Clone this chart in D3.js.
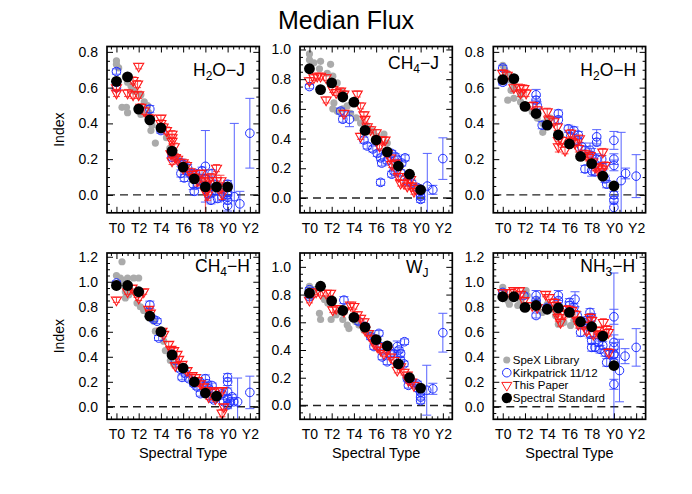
<!DOCTYPE html>
<html><head><meta charset="utf-8">
<script src="https://cdn.jsdelivr.net/npm/d3@7"></script>
<style>body{margin:0;background:#fff} svg{display:block} text{font-family:"Liberation Sans",Arial,sans-serif}</style>
</head><body><svg id="c" width="692" height="494"></svg>
<script>
// ---------- tick labels ----------
const spectralTicks = [0, 2, 4, 6, 8, 10, 12];
const spectralLabels = ["T0", "T2", "T4", "T6", "T8", "Y0", "Y2"];
const legendLabels = ["SpeX Library", "Kirkpatrick 11/12", "This Paper", "Spectral Standard"];

// ---------- H2O-J ----------
const h2oJ_gray = [[0,0.75],[0,0.73],[0.2,0.71],[0.8,0.66],[1,0.63],[1.3,0.61],[1.6,0.58],[0.5,0.49],[0.9,0.49],[1,0.46],[2.2,0.56],[2.5,0.52],[2.8,0.5],[2.9,0.46],[2.2,0.45],[3.2,0.39],[3.1,0.36],[3.5,0.29],[4.5,0.32],[4.8,0.26],[5.2,0.23],[5.5,0.2],[6,0.16],[6.5,0.12],[7,0.09],[7.5,0.07],[8,0.06],[8.5,0.04],[9,0.03]];
const h2oJ_blue = [[0,0.69,0.015],[0,0.63,0.015],[0,0.6,0.015],[3,0.48,0.02],[4,0.36,0.015],[5,0.23,0.015],[5,0.21,0.015],[5.8,0.18,0.02],[6,0.17,0.02],[5.8,0.12,0.02],[6.1,0.095,0.02],[6.4,0.15,0.02],[6.6,0.12,0.02],[6.9,0.06,0.03],[7,0.02,0.02],[7.1,0.12,0.02],[7.3,0.06,0.02],[7.6,0.08,0.02],[7.7,0.135,0.02],[8,0.16,0.2],[8,0.09,0.02],[8.2,0.045,0.02],[8.3,0.005,0.02],[8.5,-0.03,0.02],[8.6,0.12,0.02],[8.8,0.06,0.02],[8.9,0.025,0.02],[9.1,-0.02,0.02],[9.5,-0.01,0.02],[9.8,0.045,0.02],[10,0.015,0.02],[10,0.06,0.02],[10,0.0,0.02],[10,-0.03,0.02],[10,-0.06,0.03],[10.6,-0.01,0.41],[11.1,-0.05,0.07],[12,0.345,0.195]];
const h2oJ_red = [[0,0.6,0.02],[0,0.57,0.02],[1,0.57,0.02],[1.5,0.56,0.02],[2,0.72,0.015],[1.5,0.64,0.02],[1.9,0.62,0.02],[2,0.56,0.02],[2.2,0.49,0.02],[2.5,0.47,0.02],[3,0.43,0.02],[4,0.43,0.015],[4,0.4,0.02],[4.2,0.38,0.02],[4.5,0.36,0.02],[5,0.34,0.02],[5,0.32,0.02],[5,0.3,0.02],[5.2,0.27,0.02],[4.9,0.23,0.02],[5,0.19,0.02],[5.3,0.21,0.02],[5.5,0.2,0.02],[6,0.18,0.02],[6,0.15,0.02],[6.3,0.165,0.02],[6.6,0.13,0.02],[6.8,0.115,0.02],[7,0.1,0.02],[7.3,0.08,0.03],[7.5,0.12,0.02],[7.8,0.08,0.03],[8,0.06,0.03],[8.2,0.03,0.03],[8.3,0.08,0.03],[8.5,0.1,0.02],[9,0.15,0.02],[9,0.08,0.03],[9.4,0.08,0.03],[9.4,0.04,0.03],[9.5,0.005,0.03],[8.2,0.0,0.03],[8,0.02,0.12]];
const h2oJ_black = [[0,0.635],[1,0.66],[2,0.48],[3,0.42],[4,0.375],[5,0.245],[6,0.155],[7,0.09],[8,0.045],[9,0.045],[10,0.045]];

// ---------- CH4-J ----------
const ch4J_gray = [[0,0.97],[0,0.93],[0.4,0.91],[1,0.92],[1.9,0.9],[0.9,0.87],[1.6,0.84],[2.1,0.82],[2.5,0.775],[3,0.71],[2.2,0.64],[2.1,0.6],[2.5,0.585],[3,0.6],[3.4,0.62],[3.7,0.57],[4.2,0.54],[4.6,0.505],[5.2,0.48],[5.7,0.45],[6.1,0.415],[6.7,0.43],[7,0.37]];
const ch4J_blue = [[0,0.75,0.015],[2.8,0.585,0.02],[3,0.53,0.02],[3.6,0.53,0.05],[4.9,0.39,0.02],[5.2,0.35,0.02],[5.7,0.33,0.02],[6.1,0.3,0.02],[6.4,0.27,0.02],[6.5,0.235,0.02],[7,0.25,0.02],[7.4,0.3,0.02],[7.7,0.28,0.02],[7.6,0.18,0.02],[7.9,0.26,0.02],[8.3,0.235,0.02],[8.6,0.27,0.02],[7.4,0.16,0.02],[6.4,0.105,0.02],[8.2,0.17,0.02],[8.8,0.11,0.02],[9.2,0.1,0.02],[9.7,0.07,0.02],[10,0.045,0.02],[10,0.01,0.02],[10,-0.01,0.02],[10.6,0.08,0.22],[11.1,0.055,0.03],[12,0.265,0.14]];
const ch4J_red = [[0,0.79,0.02],[0.4,0.81,0.02],[0.7,0.82,0.02],[1,0.82,0.02],[1.5,0.81,0.02],[1.5,0.66,0.02],[2.1,0.73,0.02],[2.4,0.71,0.02],[2.8,0.72,0.02],[3.1,0.7,0.02],[3.1,0.57,0.02],[4.3,0.7,0.02],[4.6,0.62,0.02],[4.9,0.56,0.02],[5,0.53,0.02],[5.2,0.48,0.02],[4.6,0.415,0.02],[5.5,0.46,0.02],[6,0.44,0.02],[6.1,0.39,0.02],[6.3,0.35,0.02],[6.5,0.39,0.02],[6.8,0.39,0.02],[7,0.3,0.02],[7.3,0.27,0.02],[7.4,0.225,0.02],[7.7,0.235,0.02],[7.9,0.18,0.02],[8,0.145,0.02],[8.2,0.1,0.02],[8.5,0.1,0.02],[8.8,0.08,0.02],[9.2,0.08,0.02],[9.4,0.045,0.02],[9.5,0.065,0.02],[8.8,0.145,0.02],[9.1,0.125,0.02]];
const ch4J_black = [[0,0.87],[1,0.73],[2,0.775],[3,0.68],[4,0.645],[5,0.455],[6,0.39],[7,0.31],[8,0.215],[9,0.16],[10,0.055]];

// ---------- H2O-H ----------
const h2oH_gray = [[0,0.725],[0.15,0.7],[0.4,0.68],[0.75,0.64],[1,0.6],[0.75,0.585],[0.45,0.53],[1,0.54],[1.6,0.52],[1.6,0.56],[2.2,0.49],[2.65,0.465],[3.1,0.43],[3.6,0.4],[3.6,0.35],[4.3,0.43],[4,0.42]];
const h2oH_blue = [[0,0.71,0.015],[0,0.63,0.015],[3,0.56,0.03],[3,0.53,0.02],[3.1,0.5,0.02],[3.55,0.39,0.02],[5,0.455,0.02],[5,0.42,0.02],[5.9,0.37,0.02],[6.1,0.325,0.02],[6.4,0.36,0.02],[6.8,0.335,0.02],[6.7,0.305,0.02],[7.1,0.27,0.02],[7.4,0.25,0.02],[7.85,0.25,0.04],[8,0.22,0.04],[8.45,0.325,0.04],[8.45,0.295,0.02],[7.4,0.145,0.02],[8,0.135,0.03],[8.3,0.13,0.02],[8.45,0.2,0.03],[8.9,0.2,0.02],[9,0.155,0.02],[9.2,0.09,0.02],[9.35,0.06,0.02],[10,0.305,0.05],[10,0.2,0.03],[10,0.165,0.03],[10,0.0,0.02],[10,-0.03,0.02],[10,-0.07,0.03],[10.65,0.08,0.27],[11.05,0.12,0.03],[12,0.105,0.12]];
const h2oH_red = [[0,0.68,0.02],[0.4,0.67,0.02],[1,0.6,0.02],[1.5,0.6,0.02],[1.9,0.595,0.02],[2.1,0.57,0.02],[1.6,0.57,0.02],[2.7,0.5,0.02],[3.1,0.475,0.02],[4,0.465,0.02],[4.15,0.42,0.02],[4.6,0.41,0.02],[4.9,0.38,0.02],[5,0.305,0.02],[5,0.27,0.03],[5.3,0.305,0.02],[5.6,0.25,0.02],[6.1,0.345,0.02],[6.2,0.3,0.02],[6.5,0.29,0.02],[6.9,0.315,0.02],[6.8,0.26,0.02],[7.4,0.23,0.02],[7.7,0.21,0.02],[7.85,0.22,0.02],[8.1,0.185,0.02],[8.3,0.155,0.02],[8.6,0.155,0.02],[8.9,0.145,0.02],[9,0.24,0.02],[9.2,0.165,0.02],[8.7,0.13,0.02]];
const h2oH_black = [[0,0.645],[1,0.65],[2,0.495],[3,0.455],[4,0.39],[5,0.335],[6,0.285],[7,0.215],[8,0.175],[9,0.105],[10,0.05]];

// ---------- CH4-H ----------
const ch4H_gray = [[0.5,1.16],[0,1.05],[0.35,1.03],[0.65,1.01],[1,1.03],[1.55,1.03],[2,1.03],[0.8,0.92],[0.8,0.87],[1.1,0.895],[1.4,0.92],[1.85,0.83],[2.15,0.8],[2.45,0.77],[2.9,0.775],[3.35,0.685],[3.5,0.605],[4.25,0.525],[4.4,0.45],[4.85,0.37],[5.15,0.34]];
const ch4H_blue = [[0,0.99,0.015],[3,0.815,0.03],[3.35,0.7,0.02],[3.65,0.685,0.02],[3.8,0.55,0.02],[5,0.42,0.02],[5.3,0.37,0.02],[5.75,0.3,0.02],[5.9,0.235,0.02],[6.2,0.265,0.02],[6.5,0.225,0.02],[6.95,0.185,0.02],[7.25,0.16,0.02],[7.5,0.2,0.02],[7.55,0.105,0.02],[8,0.225,0.03],[8.15,0.185,0.02],[8.3,0.145,0.02],[8.6,0.17,0.02],[8.45,0.08,0.02],[8.75,0.055,0.02],[9.5,0.105,0.02],[9.65,0.04,0.02],[10,0.235,0.03],[10,0.2,0.03],[10,0.12,0.03],[10,0.065,0.03],[10,0.015,0.03],[10.25,0.04,0.02],[10.4,0.08,0.02],[10.55,0.04,0.02],[10.9,0.04,0.19],[12,0.115,0.13]];
const ch4H_red = [[0,0.855,0.02],[1,0.92,0.02],[1.4,0.95,0.02],[1.85,0.895,0.02],[2,0.87,0.02],[2.45,0.92,0.02],[2.9,0.78,0.02],[3.05,0.75,0.02],[4.1,0.605,0.02],[4.25,0.58,0.02],[4.7,0.5,0.02],[4.9,0.46,0.02],[5.15,0.45,0.02],[5.45,0.42,0.02],[5.6,0.38,0.02],[5.3,0.33,0.02],[5.9,0.34,0.02],[6.35,0.29,0.02],[6.8,0.25,0.02],[7.1,0.235,0.02],[7.25,0.21,0.02],[7.55,0.185,0.02],[7.85,0.16,0.02],[8.15,0.13,0.02],[8.3,0.08,0.02],[8.6,0.12,0.02],[8.9,0.065,0.02],[9.2,0.13,0.02],[9.5,0.13,0.02],[9.5,-0.05,0.03],[9.65,0.0,0.02]];
const ch4H_black = [[0,0.97],[1,0.97],[2,0.92],[3,0.725],[4,0.6],[5,0.415],[6,0.31],[7,0.2],[8,0.11],[9,0.085]];

// ---------- W_J ----------
const wJ_gray = [[0,0.86],[0.45,0.835],[0.15,0.785],[0.9,0.665],[1,0.62],[1.35,0.765],[1.65,0.74],[1.95,0.62],[2.4,0.655],[3,0.62],[3.4,0.58],[3.55,0.555],[4.15,0.605],[4.45,0.58],[4.9,0.545],[5.5,0.52],[5.8,0.49]];
const wJ_blue = [[0,0.785,0.015],[0,0.835,0.015],[3.1,0.76,0.025],[4.45,0.605,0.02],[5,0.57,0.02],[5.5,0.495,0.02],[5.8,0.425,0.02],[6.25,0.52,0.02],[6.4,0.425,0.02],[6.55,0.35,0.02],[7,0.315,0.02],[7.3,0.375,0.02],[7.6,0.375,0.02],[7.9,0.425,0.04],[8.05,0.4,0.02],[8.2,0.375,0.02],[8.55,0.46,0.02],[8.2,0.325,0.02],[8.5,0.3,0.02],[8.8,0.195,0.02],[8.9,0.145,0.02],[9.2,0.17,0.02],[9.7,0.155,0.02],[9.8,0.12,0.02],[10,0.095,0.02],[10,0.06,0.02],[10,0.035,0.02],[10.55,0.11,0.18],[11.1,0.12,0.04],[12,0.525,0.14]];
const wJ_red = [[0,0.76,0.02],[0.6,0.82,0.02],[1,0.81,0.02],[1.5,0.81,0.02],[1.9,0.81,0.02],[2.1,0.69,0.02],[2.4,0.7,0.02],[3.1,0.68,0.02],[3.7,0.725,0.02],[4,0.715,0.02],[4.3,0.655,0.02],[4.6,0.63,0.02],[4.9,0.605,0.02],[5,0.545,0.02],[5.3,0.52,0.02],[5.6,0.485,0.02],[5.8,0.45,0.02],[6.1,0.425,0.02],[6.4,0.4,0.02],[6.7,0.375,0.02],[7,0.4,0.02],[7.3,0.35,0.02],[7.6,0.325,0.02],[7.9,0.255,0.02],[8.2,0.28,0.02],[8.5,0.24,0.02],[8.8,0.22,0.02],[8.9,0.18,0.02],[9.2,0.17,0.02],[9.4,0.145,0.02]];
const wJ_black = [[0,0.81],[1,0.86],[2,0.755],[3,0.685],[4,0.635],[5,0.565],[6,0.475],[7,0.43],[8,0.3],[9,0.2],[10,0.125]];

// ---------- NH3-H ----------
const nh3H_gray = [[0,0.955],[0.15,0.915],[0.45,0.85],[0.6,0.82],[1.35,0.81],[1.6,0.835],[2.1,0.93],[2.2,0.89],[2.8,0.82],[3.1,0.85],[3.55,0.755],[4,0.82],[4.45,0.78],[4.75,0.73],[5,0.66],[5.5,0.675],[6.1,0.65],[6.4,0.69]];
const nh3H_blue = [[0,0.915,0.015],[1.9,0.89,0.02],[3,0.89,0.04],[3,0.85,0.02],[3,0.73,0.02],[4,0.795,0.02],[5,0.89,0.04],[5,0.85,0.02],[6,0.835,0.03],[6,0.81,0.03],[6.4,0.795,0.03],[6.5,0.86,0.06],[6.7,0.73,0.03],[7,0.595,0.03],[7.3,0.675,0.03],[7.55,0.69,0.03],[7.85,0.755,0.03],[8,0.715,0.03],[7.85,0.58,0.03],[8,0.53,0.03],[8,0.475,0.03],[8.3,0.475,0.03],[8.6,0.515,0.03],[8.75,0.46,0.03],[8.9,0.555,0.03],[9,0.49,0.03],[9.2,0.435,0.03],[9.35,0.355,0.03],[9.6,0.42,0.03],[10,0.72,0.06],[10,0.515,0.06],[10,0.475,0.04],[10,0.42,0.04],[10,0.355,0.04],[10,0.18,0.04],[10,0.42,0.65],[10.5,0.29,0.25],[11,0.405,0.06],[12,0.475,0.15]];
const nh3H_red = [[0,0.915,0.02],[0.6,0.915,0.02],[1,0.93,0.02],[1.5,0.93,0.02],[1.6,0.9,0.02],[1.9,0.85,0.02],[2.65,0.81,0.02],[3.1,0.795,0.02],[3.85,0.9,0.02],[4.15,0.875,0.02],[4.6,0.835,0.03],[4.75,0.81,0.03],[4.9,0.755,0.03],[5,0.715,0.03],[5.2,0.675,0.03],[5.5,0.74,0.03],[5.8,0.78,0.03],[6.2,0.77,0.03],[6.5,0.74,0.03],[6.7,0.69,0.03],[6.8,0.66,0.03],[7.3,0.65,0.03],[7.55,0.61,0.03],[7.85,0.715,0.03],[8,0.69,0.03],[8.15,0.58,0.03],[8.45,0.61,0.03],[8.75,0.58,0.03],[9.05,0.675,0.03],[9.35,0.62,0.03],[9.5,0.595,0.03],[9.55,0.435,0.03]];
const nh3H_black = [[0,0.88],[1,0.88],[2,0.795],[3,0.81],[4,0.78],[5,0.79],[6,0.755],[7,0.68],[8,0.64],[9,0.565],[10,0.33]];

// ---------- panels ----------
const panels = [
  {label:[["H",0],["2",1],["O\u2212J",0]], gray:h2oJ_gray, blue:h2oJ_blue, red:h2oJ_red, black:h2oJ_black, yMax:0.83, yTicks:[0,0.2,0.4,0.6,0.8], lx:86, ly:29},
  {label:[["CH",0],["4",1],["\u2212J",0]], gray:ch4J_gray, blue:ch4J_blue, red:ch4J_red, black:ch4J_black, yMax:1.02, yTicks:[0,0.2,0.4,0.6,0.8,1.0], lx:88, ly:22},
  {label:[["H",0],["2",1],["O\u2212H",0]], gray:h2oH_gray, blue:h2oH_blue, red:h2oH_red, black:h2oH_black, yMax:0.83, yTicks:[0,0.2,0.4,0.6,0.8], lx:87, ly:29},
  {label:[["CH",0],["4",1],["\u2212H",0]], gray:ch4H_gray, blue:ch4H_blue, red:ch4H_red, black:ch4H_black, yMax:1.23, yTicks:[0,0.2,0.4,0.6,0.8,1.0,1.2], lx:88, ly:19},
  {label:[["W",0],["J",1]], gray:wJ_gray, blue:wJ_blue, red:wJ_red, black:wJ_black, yMax:1.1, yTicks:[0,0.2,0.4,0.6,0.8,1.0], lx:106, ly:20},
  {label:[["NH",0],["3",1],["\u2212H",0]], gray:nh3H_gray, blue:nh3H_blue, red:nh3H_red, black:nh3H_black, yMax:1.23, yTicks:[0,0.2,0.4,0.6,0.8,1.0,1.2], lx:87, ly:19, legend:true}
];

const svg = d3.select("#c");
const FONT = '"Liberation Sans",Arial,sans-serif';
const cols = [107, 300, 493.3], rows = [46.5, 253], W = 152.3, H = 166.3;
const BLUE = "#1f2fff", RED = "#ff1a1a", GRAY = "#ababab";
const defs = svg.append("defs");

svg.append("text").attr("x", 346).attr("y", 29).attr("text-anchor", "middle")
  .attr("font-size", 25).text("Median Flux");

const tri = d3.symbol().type(d3.symbolTriangle).size(44);

panels.forEach((p, i) => {
  const c = i % 3, r = Math.floor(i / 3);
  const left = cols[c], top = rows[r];
  const x = d3.scaleLinear().domain([-0.85, 12.85]).range([left, left + W]);
  const y = d3.scaleLinear().domain([-0.1, p.yMax]).range([top + H, top]);
  const g = svg.append("g");
  defs.append("clipPath").attr("id", "clip" + i).append("rect")
    .attr("x", left).attr("y", top).attr("width", W).attr("height", H);

  g.append("line").attr("x1", left).attr("x2", left + W).attr("y1", y(0)).attr("y2", y(0))
    .attr("stroke", "#222").attr("stroke-width", 1.4).attr("stroke-dasharray", "8,5");

  const pg = g.append("g").attr("clip-path", `url(#clip${i})`);
  pg.append("g").selectAll("circle").data(p.gray).join("circle")
    .attr("cx", d => x(d[0])).attr("cy", d => y(d[1])).attr("r", 3.6).attr("fill", GRAY);

  function errbars(data, color, cap, op) {
    const eg = pg.append("g").attr("stroke", color).attr("stroke-width", 1).attr("opacity", op);
    eg.selectAll("line.v").data(data).join("line").attr("class", "v")
      .attr("x1", d => x(d[0])).attr("x2", d => x(d[0]))
      .attr("y1", d => y(d[1] - d[2])).attr("y2", d => y(d[1] + d[2]));
    eg.selectAll("line.t").data(data).join("line").attr("class", "t")
      .attr("x1", d => x(d[0]) - cap).attr("x2", d => x(d[0]) + cap)
      .attr("y1", d => y(d[1] + d[2])).attr("y2", d => y(d[1] + d[2]));
    eg.selectAll("line.b").data(data).join("line").attr("class", "b")
      .attr("x1", d => x(d[0]) - cap).attr("x2", d => x(d[0]) + cap)
      .attr("y1", d => y(d[1] - d[2])).attr("y2", d => y(d[1] - d[2]));
  }
  errbars(p.blue, BLUE, 4.5, 0.75);
  pg.append("g").selectAll("circle").data(p.blue).join("circle")
    .attr("cx", d => x(d[0])).attr("cy", d => y(d[1])).attr("r", 4.3)
    .attr("fill", "none").attr("stroke", BLUE).attr("stroke-width", 1);
  errbars(p.red, RED, 3.5, 0.8);
  pg.append("g").selectAll("path").data(p.red).join("path")
    .attr("d", tri).attr("transform", d => `translate(${x(d[0])},${y(d[1])}) rotate(180)`)
    .attr("fill", "none").attr("stroke", RED).attr("stroke-width", 1.1);
  pg.append("g").selectAll("circle").data(p.black).join("circle")
    .attr("cx", d => x(d[0])).attr("cy", d => y(d[1])).attr("r", 5.4).attr("fill", "#000");

  const minorX = d3.range(-0.5, 12.6, 0.5).filter(v => v % 2 !== 0);
  const minorY = d3.range(-0.05, p.yMax, 0.05).filter(v => Math.abs(Math.round(v * 5) - v * 5) > 1e-6);
  const fmt = d3.format(".1f");
  const style = sel => {
    sel.select(".domain").remove();
    sel.selectAll("line").attr("stroke", "#000").attr("stroke-width", 1);
    sel.selectAll("text").attr("font-size", 14).attr("font-family", FONT).attr("fill", "#000");
  };
  g.append("g").attr("transform", `translate(0,${top + H})`)
    .call(d3.axisBottom(x).tickValues(spectralTicks).tickFormat((d, k) => spectralLabels[k]).tickSize(-6).tickPadding(10)).call(style);
  g.append("g").attr("transform", `translate(0,${top + H})`)
    .call(d3.axisBottom(x).tickValues(minorX).tickFormat("").tickSize(-3)).call(style);
  g.append("g").attr("transform", `translate(0,${top})`)
    .call(d3.axisTop(x).tickValues(spectralTicks).tickFormat("").tickSize(-6)).call(style);
  g.append("g").attr("transform", `translate(0,${top})`)
    .call(d3.axisTop(x).tickValues(minorX).tickFormat("").tickSize(-3)).call(style);
  g.append("g").attr("transform", `translate(${left},0)`)
    .call(d3.axisLeft(y).tickValues(p.yTicks).tickFormat(fmt).tickSize(-6).tickPadding(9)).call(style);
  g.append("g").attr("transform", `translate(${left},0)`)
    .call(d3.axisLeft(y).tickValues(minorY).tickFormat("").tickSize(-3)).call(style);
  g.append("g").attr("transform", `translate(${left + W},0)`)
    .call(d3.axisRight(y).tickValues(p.yTicks).tickFormat("").tickSize(-6)).call(style);
  g.append("g").attr("transform", `translate(${left + W},0)`)
    .call(d3.axisRight(y).tickValues(minorY).tickFormat("").tickSize(-3)).call(style);

  g.append("rect").attr("x", left).attr("y", top).attr("width", W).attr("height", H)
    .attr("fill", "none").attr("stroke", "#000").attr("stroke-width", 1.7);

  const t = g.append("text").attr("x", left + p.lx).attr("y", top + p.ly).attr("font-size", 17.5);
  p.label.forEach(([s, sub]) => {
    const ts = t.append("tspan").text(s);
    if (sub) ts.attr("font-size", 12).attr("dy", 4);
    else if (t.selectAll("tspan").size() > 1) ts.attr("dy", -4);
  });

  if (c === 0) {
    svg.append("text").attr("transform", `translate(64,${top + H / 2}) rotate(-90)`)
      .attr("text-anchor", "middle").attr("font-size", 14).text("Index");
  }
  if (r === 1) {
    svg.append("text").attr("x", left + W / 2).attr("y", 458).attr("text-anchor", "middle")
      .attr("font-size", 14.5).text("Spectral Type");
  }

  if (p.legend) {
    const lg = g.append("g");
    const ys = [360, 372.7, 385.3, 398];
    const sx = left + 13.5;
    lg.append("circle").attr("cx", sx).attr("cy", ys[0]).attr("r", 3.6).attr("fill", GRAY);
    lg.append("circle").attr("cx", sx).attr("cy", ys[1]).attr("r", 4.3).attr("fill", "none").attr("stroke", BLUE);
    lg.append("path").attr("d", tri).attr("transform", `translate(${sx},${ys[2]}) rotate(180)`).attr("fill", "none").attr("stroke", RED);
    lg.append("circle").attr("cx", sx).attr("cy", ys[3]).attr("r", 5.2).attr("fill", "#000");
    lg.selectAll("text.l").data(legendLabels).join("text").attr("class", "l")
      .attr("x", sx + 6).attr("y", (d, k) => ys[k] + 4).attr("font-size", 11.5).text(d => d);
  }
});
</script></body></html>
